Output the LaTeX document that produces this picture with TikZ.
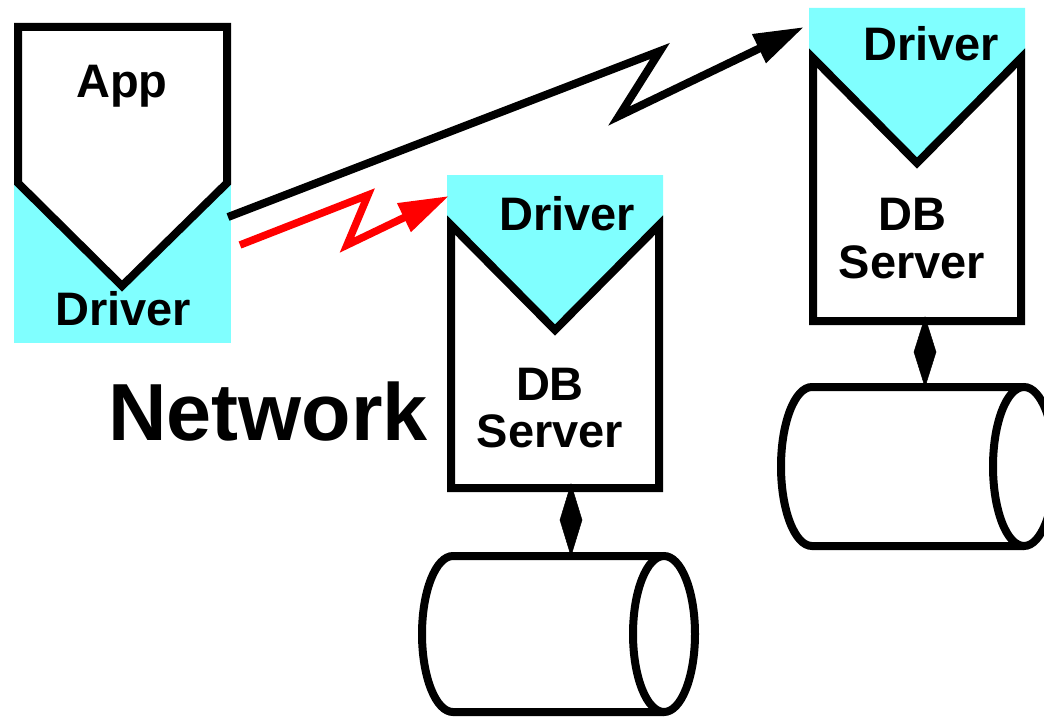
\documentclass[tikz,border=0pt]{standalone}
\usepackage{fontspec}
\setmainfont{Liberation Sans}
\usetikzlibrary{arrows.meta,calc}
\definecolor{drvcyan}{RGB}{128,255,255}
\tikzset{
  outline/.style={draw=black, line width=8pt, line join=miter, fill=white},
  cyanfill/.style={fill=drvcyan, draw=none},
  lbl/.style={anchor=base, inner sep=0pt, font=\bfseries\fontsize{47}{52}\selectfont},
  biglbl/.style={anchor=base, inner sep=0pt, font=\bfseries\fontsize{81}{90}\selectfont},
  link/.style={line width=8pt, line join=miter, -{Triangle[length=50pt,width=30pt]}},
  dbarrow/.style={fill=black, draw=black, line width=0.5pt, line join=miter}
}
\begin{document}
\begin{tikzpicture}[x=1pt,y=-1pt]
\useasboundingbox (0,0) rectangle (1044,717);
% ---------- App with driver ----------
\fill[cyanfill] (14,180) rectangle (231,343);
\draw[outline] (18,27) -- (227,27) -- (227,183) -- (122,286) -- (18,183) -- cycle;
\node[lbl] (app) at (122,97) {App};
\node[lbl] (appdrv) at (123,325) {Driver};
\coordinate (appR1) at (228,217);
\coordinate (appR2) at (240,245);
% ---------- DB server 1 ----------
\fill[cyanfill] (447,175) -- (663,175) -- (663,222) -- (555,330) -- (447,222) -- cycle;
\draw[outline] (451,225) -- (555,330) -- (659,225) -- (659,488) -- (451,488) -- cycle;
\node[lbl] (drv1) at (567,230) {Driver};
\node[lbl] (db1) at (550,400) {DB};
\node[lbl] (srv1) at (550,447) {Server};
\coordinate (drv1in) at (449,196);
\coordinate (s1bot) at (571,484);
% ---------- DB server 2 ----------
\fill[cyanfill] (809,8) -- (1025,8) -- (1025,55) -- (917,163) -- (809,55) -- cycle;
\draw[outline] (813,58) -- (917,163) -- (1021,58) -- (1021,321) -- (813,321) -- cycle;
\node[lbl] (drv2) at (931,61) {Driver};
\node[lbl] (db2) at (912,230) {DB};
\node[lbl] (srv2) at (912,278) {Server};
\coordinate (drv2in) at (804,27);
\coordinate (s2bot) at (925,317);
% ---------- Disks ----------
\draw[outline] (664,556) -- (453,556) arc[start angle=90, end angle=270, x radius=31pt, y radius=78pt] -- (664,712);
\draw[outline] (664,634) ellipse[x radius=31pt, y radius=78pt];
\coordinate (c1top) at (571,556);
\draw[outline] (1024,387) -- (812,387) arc[start angle=90, end angle=270, x radius=31pt, y radius=79.5pt] -- (1024,546);
\draw[outline] (1024,466.5) ellipse[x radius=31pt, y radius=79.5pt];
\coordinate (c2top) at (925,387);
% ---------- Network label ----------
\node[biglbl] (net) at (268,440) {Network};
% ---------- Connectors ----------
\draw[link, black] (appR1) -- (660,51) -- (619,116) -- (drv2in);
\draw[link, red, line width=7.5pt] (appR2) -- (368,195) -- (347,245) -- (drv1in);
\draw[dbarrow] (s1bot) -- ($(s1bot)!0.5!(c1top)+(11,0)$) -- (c1top) -- ($(s1bot)!0.5!(c1top)+(-11,0)$) -- cycle;
\draw[dbarrow] (s2bot) -- ($(s2bot)!0.5!(c2top)+(11,0)$) -- (c2top) -- ($(s2bot)!0.5!(c2top)+(-11,0)$) -- cycle;
\end{tikzpicture}
\end{document}
